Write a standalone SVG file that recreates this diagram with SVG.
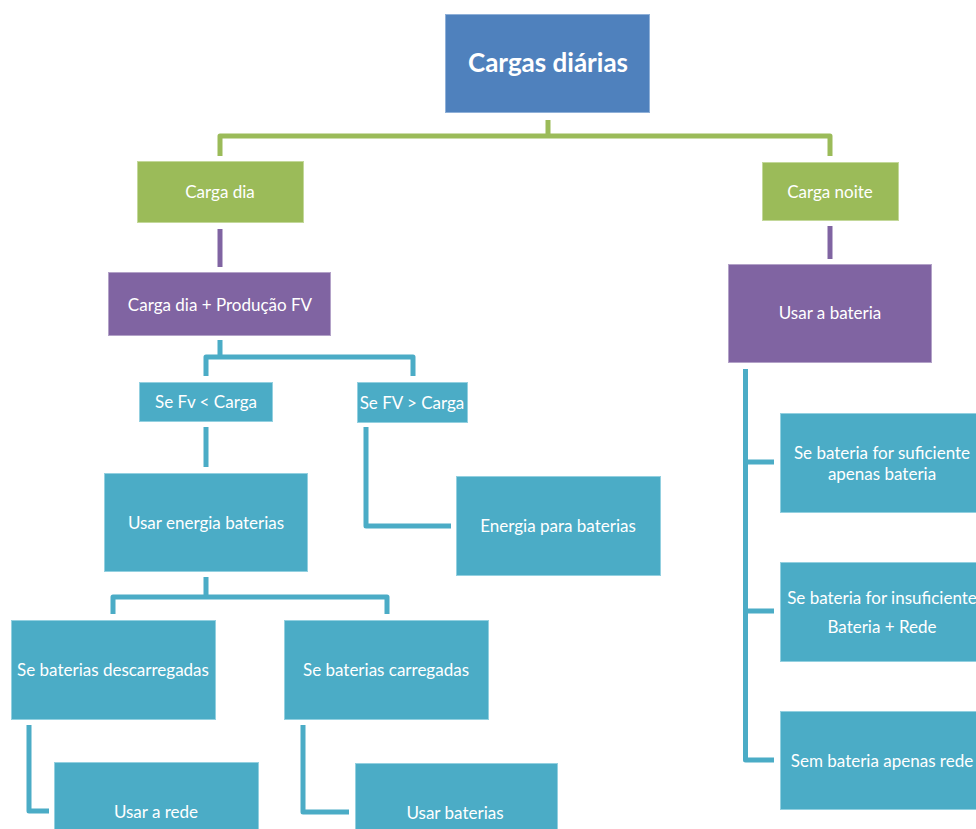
<svg xmlns="http://www.w3.org/2000/svg" width="976" height="829" viewBox="0 0 976 829">
  <style>
    .lbl { font-family: Lato, "Liberation Sans", sans-serif; font-size: 17px; fill: #ffffff; text-anchor: middle; }
    .title { font-family: Lato, "Liberation Sans", sans-serif; font-size: 26px; font-weight: bold; fill: #ffffff; text-anchor: middle; }
    .blue { fill: #4F81BD; stroke: #8fb0d8; stroke-width: 1; }
    .green { fill: #9BBB59; stroke: #c3d89a; stroke-width: 1; }
    .purple { fill: #8064A2; stroke: #b3a2c8; stroke-width: 1; }
    .teal { fill: #4BACC6; stroke: #93d0e0; stroke-width: 1; }
    .c { fill: none; stroke-width: 5; stroke-linejoin: round; stroke-linecap: butt; }
    .cg { stroke: #9BBB59; }
    .cp { stroke: #8064A2; }
    .ct { stroke: #4BACC6; }
  </style>

  <g id="connectors">
    <!-- root to level 1 -->
    <path class="c cg" d="M548 120 V136 M220 156 V136 H830 V156"/>
    <!-- level 1 to purple -->
    <path class="c cp" d="M220 229 V267"/>
    <path class="c cp" d="M830 226 V259"/>
    <!-- day branch -->
    <path class="c ct" d="M220 340 V357 M206 376 V357 H413 V376"/>
    <path class="c ct" d="M206 427 V467"/>
    <path class="c ct" d="M366 427 V526 H451"/>
    <path class="c ct" d="M206 577 V597 M113 614 V597 H387 V614"/>
    <path class="c ct" d="M29 725 V811 H49"/>
    <path class="c ct" d="M303 725 V812 H349"/>
    <!-- night branch -->
    <path class="c ct" d="M745.5 369 V760 H774 M745.5 462 H774 M745.5 611 H774"/>
  </g>

  <g id="n-cargas-diarias">
    <rect class="blue" x="445.5" y="14.5" width="204" height="98"/>
    <text class="title" x="548" y="72">Cargas diárias</text>
  </g>

  <g id="n-carga-dia">
    <rect class="green" x="137.5" y="161.5" width="166" height="61"/>
    <text class="lbl" x="220" y="198">Carga dia</text>
  </g>

  <g id="n-carga-noite">
    <rect class="green" x="762.5" y="162.5" width="136" height="58"/>
    <text class="lbl" x="830" y="197.5">Carga noite</text>
  </g>

  <g id="n-carga-dia-fv">
    <rect class="purple" x="108.5" y="272.5" width="222" height="63"/>
    <text class="lbl" x="220" y="310.5">Carga dia + Produção FV</text>
  </g>

  <g id="n-usar-bateria">
    <rect class="purple" x="728.5" y="264.5" width="203" height="98"/>
    <text class="lbl" x="830" y="319">Usar a bateria</text>
  </g>

  <g id="n-fv-menor">
    <rect class="teal" x="139.5" y="382.5" width="133" height="39"/>
    <text class="lbl" x="206" y="408">Se Fv &lt; Carga</text>
  </g>

  <g id="n-fv-maior">
    <rect class="teal" x="357.5" y="382.5" width="110" height="40"/>
    <text class="lbl" x="412" y="408.5">Se FV &gt; Carga</text>
  </g>

  <g id="n-usar-energia">
    <rect class="teal" x="104.5" y="473.5" width="203" height="98"/>
    <text class="lbl" x="206" y="528.5">Usar energia baterias</text>
  </g>

  <g id="n-energia-para">
    <rect class="teal" x="456.5" y="476.5" width="204" height="99"/>
    <text class="lbl" x="558" y="531.5">Energia para baterias</text>
  </g>

  <g id="n-descarregadas">
    <rect class="teal" x="11.5" y="620.5" width="204" height="99"/>
    <text class="lbl" x="113" y="676">Se baterias descarregadas</text>
  </g>

  <g id="n-carregadas">
    <rect class="teal" x="284.5" y="620.5" width="204" height="99"/>
    <text class="lbl" x="386" y="676">Se baterias carregadas</text>
  </g>

  <g id="n-usar-rede">
    <rect class="teal" x="54.5" y="762.5" width="204" height="80"/>
    <text class="lbl" x="156" y="817.5">Usar a rede</text>
  </g>

  <g id="n-usar-baterias">
    <rect class="teal" x="355.5" y="763.5" width="202" height="80"/>
    <text class="lbl" x="455" y="818.5">Usar baterias</text>
  </g>

  <g id="n-suficiente">
    <rect class="teal" x="780.5" y="413.5" width="204" height="99"/>
    <text class="lbl" x="882" y="458.5">Se bateria for suficiente</text>
    <text class="lbl" x="882" y="479.5">apenas bateria</text>
  </g>

  <g id="n-insuficiente">
    <rect class="teal" x="780.5" y="562.5" width="204" height="99"/>
    <text class="lbl" x="882" y="603.5">Se bateria for insuficiente</text>
    <text class="lbl" x="882" y="632.5">Bateria + Rede</text>
  </g>

  <g id="n-sem-bateria">
    <rect class="teal" x="780.5" y="711.5" width="204" height="98"/>
    <text class="lbl" x="882" y="766.5">Sem bateria apenas rede</text>
  </g>
</svg>
